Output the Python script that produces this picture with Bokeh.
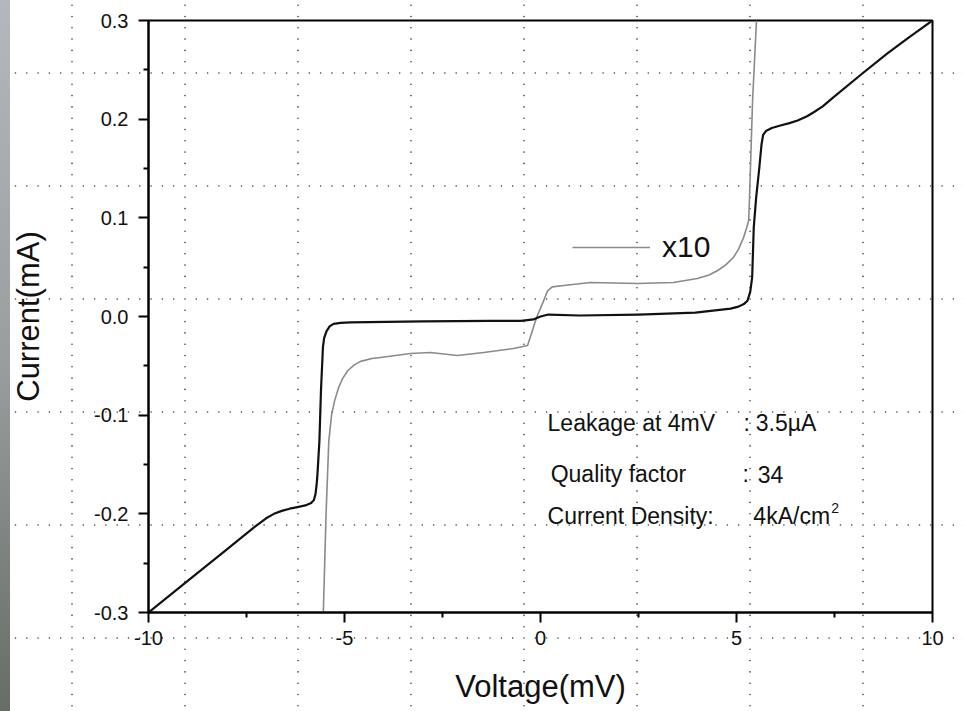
import base64
from bokeh.plotting import figure
from bokeh.models import (Range1d, FixedTicker, PrintfTickFormatter, Label,
                          Legend, LegendItem)
from bokeh.embed import file_html
from bokeh.resources import INLINE

# ---------------- data ----------------
v_black = [-10.0, -9.0, -8.0, -7.3, -7.0, -6.8, -6.6, -6.4, -6.2, -6.0, -5.85,
           -5.78, -5.74, -5.71, -5.69, -5.64, -5.6, -5.55, -5.52, -5.46, -5.38,
           -5.28, -5.1, -4.85, -3.0, -1.28, -0.5, -0.18, 0.0, 0.2, 1.0, 2.5,
           3.95, 4.85, 5.05, 5.2, 5.28, 5.35, 5.40, 5.44, 5.5, 5.58, 5.64, 5.68,
           5.75, 5.9, 6.12, 6.35, 6.56, 6.8, 6.96, 7.2, 7.47, 8.21, 8.85, 9.4,
           10.0]
i_black = [-0.3, -0.268, -0.236, -0.2135, -0.2045, -0.2, -0.197, -0.1948,
           -0.1932, -0.1915, -0.189, -0.186, -0.18, -0.17, -0.16, -0.126,
           -0.075, -0.031, -0.022, -0.015, -0.010, -0.0075, -0.0065, -0.006,
           -0.005, -0.0045, -0.0045, -0.003, 0.0, 0.002, 0.001, 0.002, 0.004,
           0.008, 0.010, 0.013, 0.016, 0.025, 0.04, 0.09, 0.12, 0.15, 0.175,
           0.184, 0.188, 0.191, 0.1936, 0.196, 0.1987, 0.203, 0.2068, 0.213,
           0.222, 0.2463, 0.2666, 0.283, 0.3]

v_gray = [-5.54, -5.47, -5.40, -5.33, -5.25, -5.15, -5.05, -4.92, -4.75, -4.59,
          -4.3, -4.08, -3.32, -2.81, -2.12, -1.45, -0.69, -0.33, -0.22, -0.1,
          0.05, 0.18, 0.3, 0.59, 1.28, 2.47, 3.39, 4.0, 4.3, 4.52, 4.72, 4.92,
          5.05, 5.18, 5.26, 5.31, 5.33, 5.41, 5.51]
i_gray = [-0.3, -0.2, -0.126, -0.1, -0.085, -0.072, -0.063, -0.055, -0.049,
          -0.0455, -0.0425, -0.0415, -0.0375, -0.0365, -0.0395, -0.0365,
          -0.0324, -0.0294, -0.016, -0.001, 0.013, 0.026, 0.030, 0.0314,
          0.0345, 0.0335, 0.0345, 0.0385, 0.042, 0.0466, 0.052, 0.0598, 0.068,
          0.08, 0.09, 0.0973, 0.1176, 0.2189, 0.3]

x_ticks = [-10, -5, 0, 5, 10]
x_minor = [-7.5, -2.5, 2.5, 7.5]
y_ticks = [-0.3, -0.2, -0.1, 0.0, 0.1, 0.2, 0.3]
y_minor = [-0.25, -0.15, -0.05, 0.05, 0.15, 0.25]

x_label = "Voltage(mV)"
y_label = "Current(mA)"
legend_label = "x10"

note_names = ["Leakage at 4mV", "Quality factor", "Current Density:"]
note_seps = [":", ":", ""]
note_values = ["3.5µA", "34", "4kA/cm"]
note_sup = "2"

# ---------------- figure ----------------
FONT = "Liberation Sans"
p = figure(width=964, height=711, x_range=Range1d(-10, 10),
           y_range=Range1d(-0.3, 0.3), output_backend="svg",
           toolbar_location=None, min_border_left=148, min_border_right=32,
           min_border_top=20, min_border_bottom=99)
p.background_fill_color = None
p.border_fill_color = None
p.outline_line_color = "black"
p.outline_line_width = 2
p.xgrid.visible = False
p.ygrid.visible = False

# background: gray strip at left and a dotted guide grid across the page
dots = []
for k in range(10):
    dots.append(f'<circle cx="1" cy="{1 + 11.3 * k:.1f}" r="0.8" fill="rgb(60,60,60)"/>')
    if k:
        dots.append(f'<circle cx="{1 + 11.3 * k:.1f}" cy="1" r="0.8" fill="rgb(60,60,60)"/>')
svg = ('<svg xmlns="http://www.w3.org/2000/svg" width="113" height="113">'
       + "".join(dots) + "</svg>")
url = "data:image/svg+xml;base64," + base64.b64encode(svg.encode()).decode()
p.styles = {
    "background-color": "white",
    "background-image": ("linear-gradient(to bottom, #b4b8bc, #9a9e9f 50%, #686c66), "
                         f"url('{url}')"),
    "background-size": "10px 100%, 113px 113px",
    "background-position": "0px 0px, 71px 72px",
    "background-repeat": "no-repeat, repeat",
}

for ax in (p.xaxis[0], p.yaxis[0]):
    ax.axis_line_width = 2
    ax.axis_line_color = "black"
    ax.major_tick_in = 0
    ax.major_tick_out = 10
    ax.major_tick_line_width = 2
    ax.minor_tick_in = 0
    ax.minor_tick_out = 5
    ax.minor_tick_line_width = 2
    ax.major_label_text_font = FONT
    ax.major_label_text_font_size = "20px"
    ax.major_label_text_color = "#111111"
    ax.axis_label_text_font = FONT
    ax.axis_label_text_font_size = "31px"
    ax.axis_label_text_font_style = "normal"
    ax.axis_label_text_color = "#111111"

p.xaxis.ticker = FixedTicker(ticks=x_ticks, minor_ticks=x_minor)
p.yaxis.ticker = FixedTicker(ticks=y_ticks, minor_ticks=y_minor)
p.xaxis.formatter = PrintfTickFormatter(format="%d")
p.yaxis.formatter = PrintfTickFormatter(format="%.1f")
p.xaxis.axis_label = x_label
p.yaxis.axis_label = y_label
p.xaxis.major_label_standoff = 8
p.yaxis.major_label_standoff = 10
p.xaxis.axis_label_standoff = 21
p.yaxis.axis_label_standoff = 45

# ---------------- curves ----------------
r_gray = p.line(v_gray, i_gray, line_color="#8a8a8a", line_width=1.6,
                line_join="round")
r_black = p.line(v_black, i_black, line_color="#111111", line_width=2.2,
                 line_join="round")

legend = Legend(items=[LegendItem(label=legend_label, renderers=[r_gray])],
                location=(424, 347), border_line_color=None,
                background_fill_alpha=0, padding=0, margin=0, spacing=0,
                glyph_width=78, glyph_height=36, label_height=36,
                label_standoff=12, label_text_font=FONT,
                label_text_font_size="30px", label_text_color="#111111")
p.add_layout(legend)

# ---------------- annotation text ----------------
name_x = [0.18, 0.26, 0.18]
sep_x = [5.18, 5.15, 5.18]
val_x = [5.49, 5.54, 5.43]
row_y = [-0.1084, -0.160, -0.2027]
for k in range(3):
    for txt, xx in ((note_names[k], name_x[k]), (note_seps[k], sep_x[k]),
                    (note_values[k], val_x[k])):
        if not txt:
            continue
        p.add_layout(Label(x=xx, y=row_y[k], text=txt, text_font=FONT,
                           text_font_size="23px", text_color="#111111",
                           text_baseline="alphabetic", text_align="left"))
p.add_layout(Label(x=7.42, y=-0.1936, text=note_sup, text_font=FONT,
                   text_font_size="14px", text_color="#111111",
                   text_baseline="alphabetic", text_align="left"))

open("out.html", "w").write(file_html(p, INLINE))
